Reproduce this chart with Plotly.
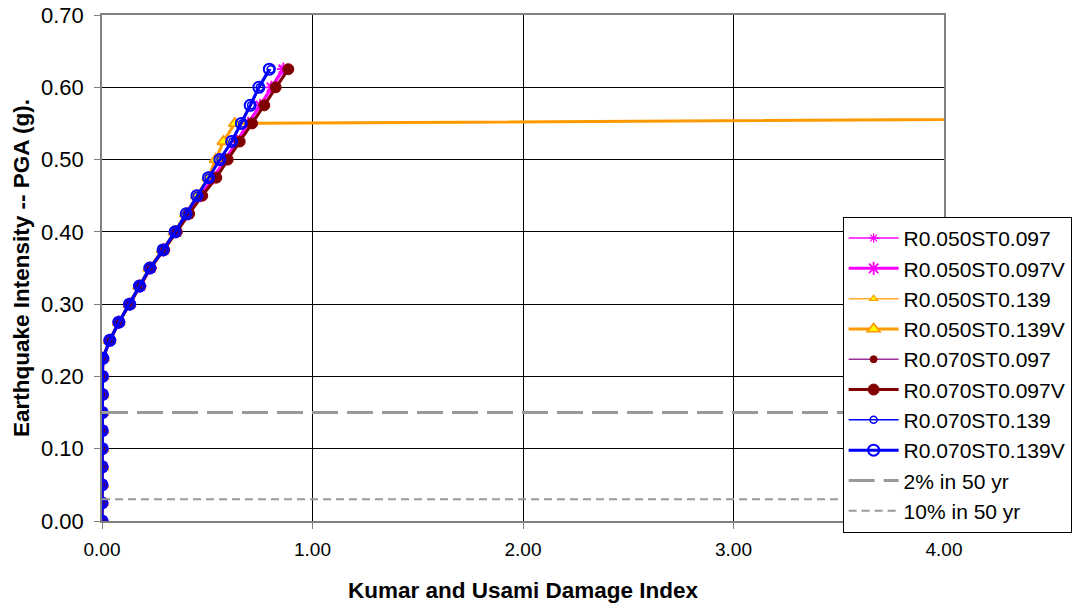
import plotly.graph_objects as go

# Peak ground acceleration levels (g) for each analysis step
pga = [0.000, 0.025, 0.050, 0.075, 0.100, 0.125, 0.150, 0.175, 0.200, 0.225,
       0.250, 0.275, 0.300, 0.325, 0.350, 0.375, 0.400, 0.425, 0.450, 0.475,
       0.500, 0.525, 0.550, 0.575, 0.600, 0.625]

# Kumar and Usami damage index per model
di_r050_st097 = [0.000, 0.000, 0.000, 0.001, 0.001, 0.001, 0.001, 0.002, 0.002, 0.004,
                 0.037, 0.080, 0.132, 0.180, 0.229, 0.292, 0.351, 0.408, 0.466, 0.527,
                 0.583, 0.638, 0.690, 0.748, 0.800, 0.855]
di_r050_st097v = [0.000, 0.000, 0.000, 0.001, 0.001, 0.001, 0.001, 0.002, 0.002, 0.004,
                  0.037, 0.080, 0.132, 0.181, 0.230, 0.293, 0.352, 0.410, 0.469, 0.530,
                  0.586, 0.641, 0.694, 0.752, 0.805, 0.862]
pga_st139 = [0.000, 0.025, 0.050, 0.075, 0.100, 0.125, 0.150, 0.175, 0.200, 0.225,
             0.250, 0.275, 0.300, 0.325, 0.350, 0.375, 0.400, 0.425, 0.450, 0.475,
             0.500, 0.525, 0.550, 0.575]
di_r050_st139 = [0.000, 0.000, 0.000, 0.001, 0.001, 0.001, 0.001, 0.002, 0.002, 0.004,
                 0.036, 0.079, 0.130, 0.177, 0.225, 0.288, 0.345, 0.398, 0.450, 0.504,
                 0.539, 0.575, 0.629, 16.000]
di_r050_st139v = [0.000, 0.000, 0.000, 0.001, 0.001, 0.001, 0.001, 0.002, 0.002, 0.004,
                  0.036, 0.079, 0.130, 0.177, 0.225, 0.288, 0.345, 0.399, 0.451, 0.505,
                  0.540, 0.577, 0.631, 16.000]
di_r070_st097 = [0.000, 0.000, 0.000, 0.001, 0.001, 0.001, 0.001, 0.002, 0.002, 0.004,
                 0.037, 0.081, 0.133, 0.181, 0.231, 0.295, 0.354, 0.413, 0.475, 0.541,
                 0.595, 0.652, 0.711, 0.769, 0.822, 0.880]
di_r070_st097v = [0.000, 0.000, 0.000, 0.001, 0.001, 0.001, 0.001, 0.002, 0.002, 0.004,
                  0.037, 0.081, 0.133, 0.181, 0.231, 0.295, 0.355, 0.414, 0.476, 0.543,
                  0.597, 0.654, 0.713, 0.771, 0.825, 0.885]
di_r070_st139 = [0.000, 0.000, 0.000, 0.001, 0.001, 0.001, 0.001, 0.002, 0.002, 0.004,
                 0.037, 0.080, 0.131, 0.178, 0.227, 0.290, 0.347, 0.401, 0.452, 0.507,
                 0.562, 0.619, 0.665, 0.708, 0.749, 0.801]
di_r070_st139v = [0.000, 0.000, 0.000, 0.001, 0.001, 0.001, 0.001, 0.002, 0.002, 0.004,
                  0.037, 0.080, 0.131, 0.178, 0.227, 0.290, 0.347, 0.400, 0.451, 0.506,
                  0.560, 0.616, 0.662, 0.704, 0.745, 0.795]

# Hazard levels (g)
hazard_x = [0.0, 4.0]
pga_2pct_50yr = 0.15
pga_10pct_50yr = 0.03

FONT = "Liberation Sans, Arial, sans-serif"

fig = go.Figure()


def add_series(name, x, y, color, width, symbol, size, fill, mline, mline_w):
    fig.add_trace(go.Scatter(
        x=x, y=y, name=name, mode="lines+markers",
        line=dict(color=color, width=width),
        marker=dict(symbol=symbol, size=size, color=fill,
                    line=dict(color=mline, width=mline_w)),
    ))


add_series("R0.050ST0.097", di_r050_st097, pga, "#FF00FF", 1.5,
           "asterisk-open", 8, "#FF00FF", "#FF00FF", 1.2)
add_series("R0.050ST0.097V", di_r050_st097v, pga, "#FF00FF", 3,
           "asterisk-open", 11, "#FF00FF", "#FF00FF", 1.8)
add_series("R0.050ST0.139", di_r050_st139, pga_st139, "#FFAA33", 1.5,
           "triangle-up", 7, "#FFFF00", "#FF9900", 1.2)
add_series("R0.050ST0.139V", di_r050_st139v, pga_st139, "#FF9900", 3,
           "triangle-up", 11, "#FFFF00", "#FF9900", 1.8)
add_series("R0.070ST0.097", di_r070_st097, pga, "#993399", 1.5,
           "circle", 7, "#800000", "#800000", 1)
add_series("R0.070ST0.097V", di_r070_st097v, pga, "#800000", 3,
           "circle", 11, "#800000", "#800000", 1)
add_series("R0.070ST0.139", di_r070_st139, pga, "#0000FF", 1.5,
           "circle-open", 7, "#0000FF", "#0000FF", 1.5)
add_series("R0.070ST0.139V", di_r070_st139v, pga, "#0000FF", 3,
           "circle-open", 11, "#0000FF", "#0000FF", 2)

fig.add_trace(go.Scatter(
    x=hazard_x, y=[pga_2pct_50yr] * len(hazard_x), name="2% in 50 yr",
    mode="lines", line=dict(color="#999999", width=3, dash="26px,9px"),
))
fig.add_trace(go.Scatter(
    x=hazard_x, y=[pga_10pct_50yr] * len(hazard_x), name="10% in 50 yr",
    mode="lines", line=dict(color="#999999", width=2, dash="8px,5px"),
))

fig.update_layout(
    width=1077, height=607,
    margin=dict(l=101.5, r=132.5, t=15, b=86, autoexpand=False),
    paper_bgcolor="white", plot_bgcolor="white",
    font=dict(family=FONT, color="black", size=18),
    showlegend=True,
    legend=dict(
        x=0.8796, y=0.601, xanchor="left", yanchor="top",
        bgcolor="white", bordercolor="black", borderwidth=1,
        font=dict(family=FONT, size=21, color="black"),
        itemwidth=50, tracegroupgap=0,
    ),
    xaxis=dict(
        range=[0, 4.0], dtick=1, tick0=0, tickformat=".2f",
        showgrid=True, gridcolor="black", gridwidth=1,
        showline=True, linecolor="#808080", linewidth=1.5, mirror=True,
        ticks="outside", ticklen=6, tickcolor="#808080",
        zeroline=False, ticklabelstandoff=4,
        tickfont=dict(family=FONT, size=19),
        title=dict(text="<b>Kumar and Usami Damage Index</b>",
                   font=dict(family=FONT, size=22.5), standoff=24),
    ),
    yaxis=dict(
        range=[0, 0.70], dtick=0.1, tick0=0, tickformat=".2f",
        showgrid=True, gridcolor="black", gridwidth=1,
        showline=True, linecolor="#808080", linewidth=1.5, mirror=True,
        ticks="outside", ticklen=6, tickcolor="#808080",
        zeroline=False, ticklabelstandoff=6,
        tickfont=dict(family=FONT, size=22),
        title=dict(text="<b>Earthquake Intensity -- PGA (g).</b>",
                   font=dict(family=FONT, size=22.5), standoff=5),
    ),
)

fig.write_html("out.html")
